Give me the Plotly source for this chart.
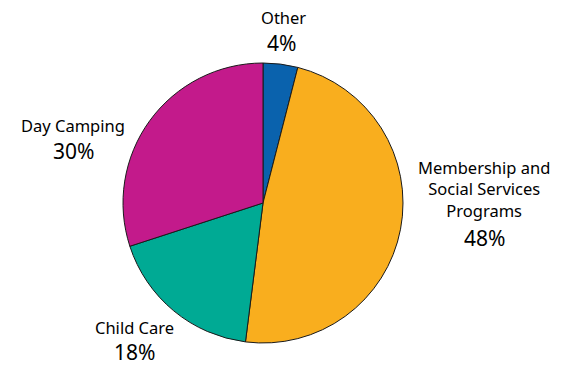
import plotly.graph_objects as go

categories = ["Other", "Membership and<br>Social Services<br>Programs", "Child Care", "Day Camping"]
values = [4, 48, 18, 30]
colors = ["#0A62AD", "#F9AE1E", "#00AA94", "#C31A8B"]

# label anchor positions (pixels): name position and pct position
name_pos = [(283, 17), (484, 189), (134, 327), (73, 125)]
pct_pos = [(281, 43), (484, 238), (134, 352), (73, 151)]

W, H = 569, 365
fig = go.Figure(go.Pie(
    labels=categories, values=values, sort=False, direction="clockwise", rotation=0,
    marker=dict(colors=colors, line=dict(color="#1a1a1a", width=1)),
    textinfo="none", hoverinfo="label+percent", showlegend=False,
    domain=dict(x=[123 / W, 403 / W], y=[1 - 343 / H, 1 - 63 / H]),
))

font_family = "Noto Sans, DejaVu Sans, sans-serif"
total = sum(values)
for cat, v, (nx, ny), (px, py) in zip(categories, values, name_pos, pct_pos):
    fig.add_annotation(x=nx / W, y=1 - ny / H, xref="paper", yref="paper", text=cat,
                       showarrow=False, xanchor="center", yanchor="middle",
                       font=dict(family=font_family, size=16.5, color="#000"))
    fig.add_annotation(x=px / W, y=1 - py / H, xref="paper", yref="paper",
                       text=f"{round(v / total * 100)}%",
                       showarrow=False, xanchor="center", yanchor="middle",
                       font=dict(family=font_family, size=21, color="#000"))

fig.update_layout(width=W, height=H, margin=dict(l=0, r=0, t=0, b=0),
                  paper_bgcolor="white", plot_bgcolor="white")
fig.write_html("out.html")
